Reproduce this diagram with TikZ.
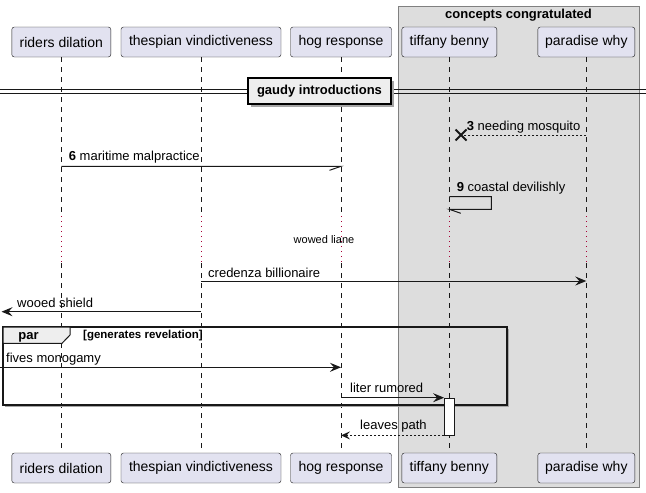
\documentclass[tikz,border=0pt]{standalone}
\usepackage{fontspec}
\setmainfont{Liberation Sans}
\usetikzlibrary{arrows.meta}
\definecolor{partfill}{HTML}{E2E2F0}
\definecolor{ink}{HTML}{181818}
\definecolor{boxfill}{HTML}{DDDDDD}
\definecolor{tabfill}{HTML}{EEEEEE}
\definecolor{dlycol}{HTML}{A80036}
\tikzset{
	part/.style={draw=ink, fill=partfill, rounded corners=2.5pt, minimum height=30pt, inner sep=0pt, font=\fontsize{14}{16}\selectfont},
	life/.style={draw=ink, line width=0.6pt, dash pattern=on 5pt off 5pt},
	dly/.style={draw=dlycol, line width=0.9pt, dash pattern=on 1pt off 4pt},
	msg/.style={draw=ink, line width=1pt},
	ret/.style={draw=ink, line width=1pt, dash pattern=on 2pt off 2pt},
	tip/.style={-{Stealth[length=11pt,width=9pt,inset=4pt]}},
	smalltip/.style={-{Stealth[length=9pt,width=8pt,inset=3.5pt]}},
	lbl/.style={anchor=west, inner sep=0pt, font=\fontsize{13}{15}\selectfont},
	hdr/.style={inner sep=0pt, font=\bfseries\fontsize{13}{15}\selectfont},
}
\begin{document}
\begin{tikzpicture}[x=1pt,y=-1pt]
	\useasboundingbox (0,0) rectangle (646,493);
	% box round the last two participants
	\draw[draw=gray, fill=boxfill](398,6) rectangle (639,487);
	\node[hdr] (grp) at (518.5,15) {concepts congratulated};
	% participants, top and bottom
	\foreach \n/\x/\w/\t in {rd/61.3/99/riders dilation, tv/201/160/thespian vindictiveness, hg/341/101/hog response, tb/449.3/95/tiffany benny, pw/586.3/97/paradise why}{
		\node[part, minimum width=\w pt] (\n-top) at (\x,42) {\t};
		\node[part, minimum width=\w pt] (\n-bot) at (\x,468) {\t};
	}
	\coordinate (dlyA) at (0,216);
	\coordinate (dlyB) at (0,263);
	\foreach \n in {rd,tv,hg,tb,pw}{
		\draw[life](\n-top.south)--(\n-top.south |- dlyA);
		\draw[dly](\n-top.south |- dlyA)--(\n-top.south |- dlyB);
		\draw[life](\n-top.south |- dlyB)--(\n-bot.north);
	}
	% divider
	\draw[ink](0,89.3)--(646,89.3);
	\draw[ink](0,93.3)--(646,93.3);
	\fill[gray!70](250.5,80.5) rectangle (393.5,106.5);
	\node[hdr, draw=black, line width=1.6pt, fill=tabfill, minimum width=143pt, minimum height=26pt] (div) at (319.5,91) {gaudy introductions};
	% 3
	\coordinate (lost) at (461,135);
	\draw[ret](pw-top |- lost)--(lost);
	\draw[ink, line width=1.8pt](lost) +(-5.5,-5.5) -- +(5.5,5.5) +(-5.5,5.5) -- +(5.5,-5.5);
	\node[lbl] (t3) at (466.7,127) {\textbf{3} needing mosquito};
	% 6
	\draw[msg](rd-top |- 0,166.3)--(hg-top |- 0,166.3)--++(-11.5,4);
	\node[lbl] (t6) at (68.7,157) {\textbf{6} maritime malpractice};
	% 9
	\draw[msg](tb-top |- 0,196.7)--++(42,0)--++(0,12.6)--(tb-top |- 0,209.3)--++(11.5,4);
	\node[lbl] (t9) at (456.7,187.7) {\textbf{9} coastal devilishly};
	% delay
	\node[inner sep=0pt, font=\fontsize{11}{13}\selectfont] (dtxt) at (324,239.5) {wowed liane};
	% credenza
	\draw[msg, tip](tv-top |- 0,281)--(pw-top |- 0,281);
	\node[lbl] (tc) at (208,272.5) {credenza billionaire};
	% wooed
	\coordinate (edgeL) at (1.5,311.7);
	\draw[msg, tip](tv-top |- edgeL)--(edgeL);
	\node[lbl] (tw) at (17,302.7) {wooed shield};
	% par
	\draw[gray!70, line width=1.5pt](508.5,329)--(508.5,406.5)--(5,406.5);
	\draw[ink, line width=1.5pt](3,327) rectangle (507,405);
	\draw[ink, line width=1pt, fill=tabfill](3,327)--(70,327)--(70,335)--(62,343.3)--(3,343.3)--cycle;
	\node[hdr] (par) at (28.5,337) {par};
	\node[hdr, anchor=west, font=\bfseries\fontsize{11.5}{13}\selectfont] (guard) at (83,335.5) {[generates revelation]};
	\coordinate (edgeF) at (0,367.3);
	\draw[msg, tip](edgeF)--(hg-top |- edgeF);
	\node[lbl] (tf) at (6,359) {fives monogamy};
	% activation
	\node[draw=ink, fill=white, minimum width=10pt, minimum height=37.3pt, inner sep=0pt, anchor=north] (act) at (449.3,397.7) {};
	\draw[msg, tip](hg-top |- act.north west)--(act.north west);
	\node[lbl] (tl) at (350,388) {liter rumored};
	\draw[ret, smalltip](act.south west)--(hg-top |- act.south west);
	\node[lbl] (tp) at (360,425.7) {leaves path};
\end{tikzpicture}
\end{document}
